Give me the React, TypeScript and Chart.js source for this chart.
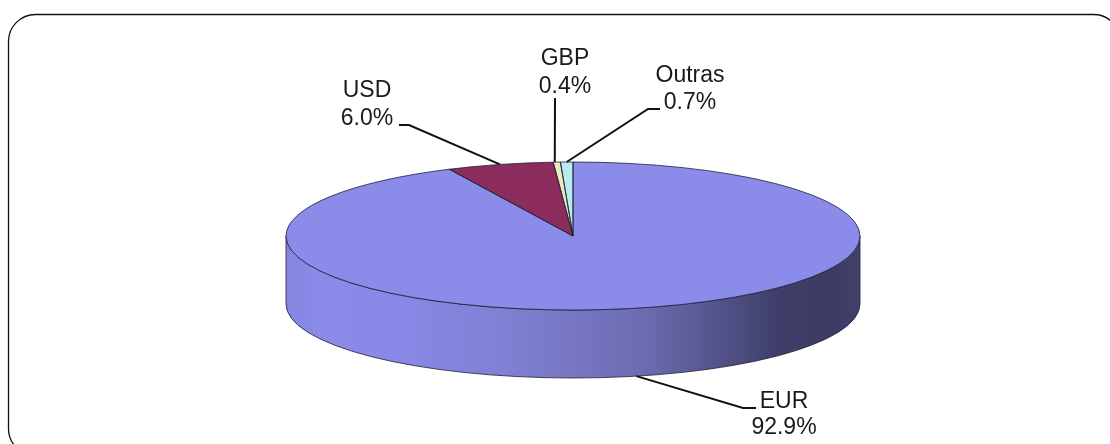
import React, { useEffect, useRef } from "react";
import { Chart, registerables } from "chart.js";

Chart.register(...registerables);

const categories = ["EUR", "USD", "GBP", "Outras"];
const shares = [92.9, 6.0, 0.4, 0.7];
const sliceColors = ["#8B8BEA", "#8B2C5C", "#EBEBBB", "#B8EBEB"];

const TILT = { cx: 573, cy: 236, rx: 287, ry: 74, depth: 68 };
const FONT = '23px "Liberation Sans", Arial, sans-serif';

// Label placement: text centre, two baselines, and the leader's elbow/end points.
const labelLayout: Record<string, any> = {
  EUR: { x: 784, y1: 408, y2: 434, elbow: [743, 408], end: [756, 408], nudge: 0 },
  USD: { x: 367, y1: 97, y2: 125, elbow: [409, 125], end: [399, 125], nudge: 0 },
  GBP: { x: 565, y1: 65, y2: 93, elbow: null, end: [555, 98], nudge: -2 },
  Outras: { x: 690, y1: 82, y2: 109, elbow: [648, 109], end: [660, 109], nudge: 0 },
};

const frame = {
  id: "frame",
  beforeDraw(chart: any) {
    const { ctx } = chart;
    ctx.save();
    ctx.fillStyle = "#ffffff";
    ctx.fillRect(0, 0, chart.width, chart.height);
    ctx.strokeStyle = "#111111";
    ctx.lineWidth = 1.3;
    ctx.beginPath();
    ctx.roundRect(8.5, 14.5, 1112, 441, 27);
    ctx.stroke();
    ctx.restore();
  },
};

function wallGradient(ctx: CanvasRenderingContext2D) {
  const { cx, rx } = TILT;
  const g = ctx.createLinearGradient(cx - rx, 0, cx + rx, 0);
  g.addColorStop(0, "#8585DF");
  g.addColorStop(0.05, "#8A8AE8");
  g.addColorStop(0.2, "#8888E6");
  g.addColorStop(0.4, "#7F7FD2");
  g.addColorStop(0.62, "#6C6CB2");
  g.addColorStop(0.74, "#56568E");
  g.addColorStop(0.86, "#3E3E69");
  g.addColorStop(0.95, "#3B3B64");
  g.addColorStop(1, "#40406C");
  return g;
}

const tilt = {
  id: "tilt",
  beforeDatasetsDraw(chart: any) {
    const { ctx } = chart;
    const { cx, cy, rx, ry, depth } = TILT;
    const arcs = chart.getDatasetMeta(0).data;
    // Extruded wall: only the part of each slice that faces the viewer.
    arcs.forEach((arc: any) => {
      const s = Math.max(arc.startAngle, 0);
      const e = Math.min(arc.endAngle, Math.PI);
      if (s >= e) return;
      ctx.save();
      ctx.beginPath();
      ctx.ellipse(cx, cy, rx, ry, 0, s, e);
      ctx.ellipse(cx, cy + depth, rx, ry, 0, e, s, true);
      ctx.closePath();
      ctx.fillStyle = wallGradient(ctx);
      ctx.fill();
      ctx.strokeStyle = "#1c1c30";
      ctx.lineWidth = 0.8;
      ctx.stroke();
      ctx.restore();
    });
    // Flatten the library's circular pie to the tilted ellipse.
    const a = arcs[0];
    const R = a.outerRadius;
    ctx.save();
    ctx.translate(cx, cy);
    ctx.scale(rx / R, ry / R);
    ctx.translate(-a.x, -a.y);
  },
  afterDatasetsDraw(chart: any) {
    const { ctx } = chart;
    ctx.restore();
    const { cx, cy, rx, ry, depth } = TILT;
    const arcs = chart.getDatasetMeta(0).data;
    arcs.forEach((arc: any) => {
      ctx.beginPath();
      ctx.moveTo(cx, cy);
      ctx.ellipse(cx, cy, rx, ry, 0, arc.startAngle, arc.endAngle);
      ctx.closePath();
      ctx.strokeStyle = "#20203a";
      ctx.lineWidth = 0.8;
      ctx.stroke();
    });
    // Leaders and labels
    ctx.save();
    arcs.forEach((arc: any, i: number) => {
      const name = categories[i];
      const lay = labelLayout[name];
      const mid = (arc.startAngle + arc.endAngle) / 2;
      const ax = cx + rx * Math.cos(mid) + lay.nudge;
      const onFront = Math.sin(mid) > 0;
      const ay = cy + ry * Math.sin(mid) + (onFront ? depth : 0);
      ctx.beginPath();
      ctx.moveTo(ax, ay);
      if (lay.elbow) ctx.lineTo(lay.elbow[0], lay.elbow[1]);
      ctx.lineTo(lay.end[0], lay.end[1]);
      ctx.strokeStyle = "#111111";
      ctx.lineWidth = 2;
      ctx.stroke();
      ctx.fillStyle = "#1a1a1a";
      ctx.font = FONT;
      ctx.textAlign = "center";
      ctx.textBaseline = "alphabetic";
      ctx.fillText(name, lay.x, lay.y1);
      ctx.fillText(shares[i].toFixed(1) + "%", lay.x, lay.y2);
    });
    ctx.restore();
  },
};

export default function App() {
  const ref = useRef<HTMLCanvasElement>(null);
  useEffect(() => {
    const chart = new Chart(ref.current!, {
      type: "pie",
      data: {
        labels: categories,
        datasets: [
          {
            data: shares,
            backgroundColor: sliceColors,
            borderWidth: 0,
            clip: false,
          } as any,
        ],
      },
      options: {
        animation: false,
        responsive: false,
        devicePixelRatio: 1,
        layout: { padding: 0 },
        plugins: { legend: { display: false }, tooltip: { enabled: false } },
      },
      plugins: [frame, tilt],
    });
    return () => chart.destroy();
  }, []);
  return (
    <canvas
      ref={ref}
      width={1110}
      height={444}
      style={{ position: "absolute", left: 0, top: 0, display: "block" }}
    />
  );
}
